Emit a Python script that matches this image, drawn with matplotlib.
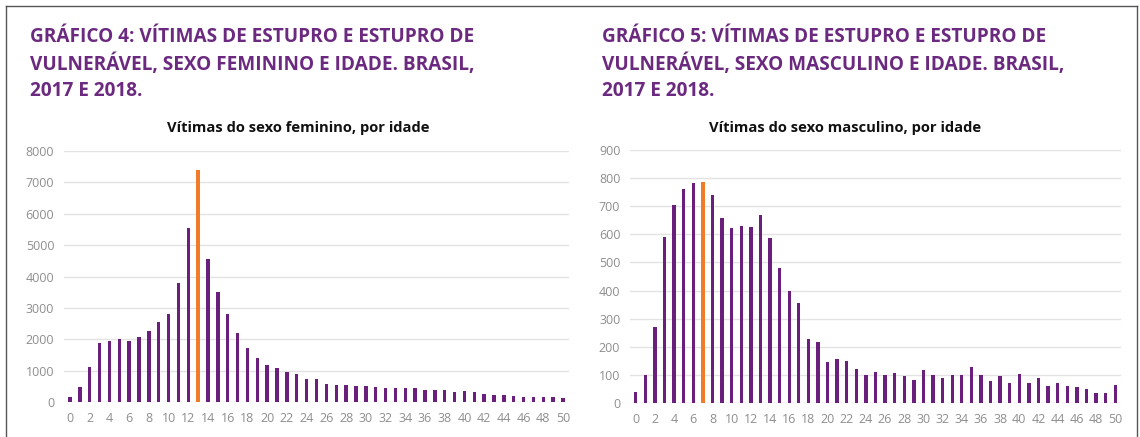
import matplotlib
matplotlib.use("Agg")
import matplotlib.pyplot as plt

plt.rcParams['font.family'] = ['Open Sans', 'DejaVu Sans']

# ages 0..50
idades = list(range(51))

vitimas_fem = [150, 467, 1125, 1880, 1950, 2015, 1950, 2080, 2260, 2545,
               2800, 3790, 5530, 7405, 4550, 3510, 2810, 2205, 1720, 1410,
               1190, 1070, 965, 880, 730, 730, 585, 530, 530, 500,
               500, 467, 455, 435, 445, 445, 380, 370, 370, 330,
               350, 310, 265, 235, 225, 200, 160, 160, 160, 150,
               130]

vitimas_masc = [38, 100, 269, 592, 706, 762, 782, 786, 740, 659,
                622, 628, 626, 667, 588, 479, 399, 355, 229, 217,
                146, 158, 149, 122, 101, 110, 101, 105, 95, 81,
                116, 101, 89, 101, 100, 127, 98, 77, 95, 71,
                103, 70, 89, 62, 70, 60, 56, 51, 36, 37,
                64]

destaque_fem = 13
destaque_masc = 7

titulo_fem = "GRÁFICO 4: VÍTIMAS DE ESTUPRO E ESTUPRO DE\nVULNERÁVEL, SEXO FEMININO E IDADE. BRASIL,\n2017 E 2018."
titulo_masc = "GRÁFICO 5: VÍTIMAS DE ESTUPRO E ESTUPRO DE\nVULNERÁVEL, SEXO MASCULINO E IDADE. BRASIL,\n2017 E 2018."
sub_fem = "Vítimas do sexo feminino, por idade"
sub_masc = "Vítimas do sexo masculino, por idade"

roxo = '#6a1f7d'
laranja = '#f07c2a'
titulo_cor = '#6b2a80'

W, H = 1140, 437
fig = plt.figure(figsize=(W / 100, H / 100), dpi=100)


def px(x0, y_top, x1, y_bot):
    return [x0 / W, 1 - y_bot / H, (x1 - x0) / W, (y_bot - y_top) / H]


def painel(rect, valores, destaque, ymax, ystep, titulo, sub, tx, sx):
    ax = fig.add_axes(rect)
    cores = [laranja if i == destaque else roxo for i in idades]
    ax.bar(idades, valores, width=0.35, color=cores, zorder=2)
    ax.set_xlim(-0.6, 50.6)
    ax.set_ylim(0, ymax)
    ax.set_yticks(range(0, ymax + 1, ystep))
    ax.set_xticks(range(0, 51, 2))
    ax.grid(axis='y', color='#e3e3e3', linewidth=1, zorder=0)
    for s in ax.spines.values():
        s.set_visible(False)
    ax.tick_params(length=0, labelsize=9, labelcolor='#8e8e8e', pad=7)
    fig.text(tx / W, 1 - 27 / H, titulo, fontsize=13.7, fontweight='bold',
             color=titulo_cor, va='top', ha='left', linespacing=1.4)
    fig.text(sx / W, 1 - 128 / H, sub, fontsize=10.6, fontweight='bold',
             color='#111111', ha='center', va='center')
    return ax


painel(px(64, 151, 569, 402), vitimas_fem, destaque_fem, 8000, 1000,
       titulo_fem, sub_fem, 30, 298)
painel(px(630, 150, 1121, 403), vitimas_masc, destaque_masc, 900, 100,
       titulo_masc, sub_masc, 602, 845)

# moldura
fig.add_artist(plt.Line2D([6 / W, 1137 / W], [1 - 6 / H, 1 - 6 / H], color='#555555', lw=1))
fig.add_artist(plt.Line2D([6 / W, 6 / W], [0, 1 - 6 / H], color='#555555', lw=1))
fig.add_artist(plt.Line2D([1137 / W, 1137 / W], [0, 1 - 6 / H], color='#555555', lw=1))

fig.savefig('out.png', dpi=100)
